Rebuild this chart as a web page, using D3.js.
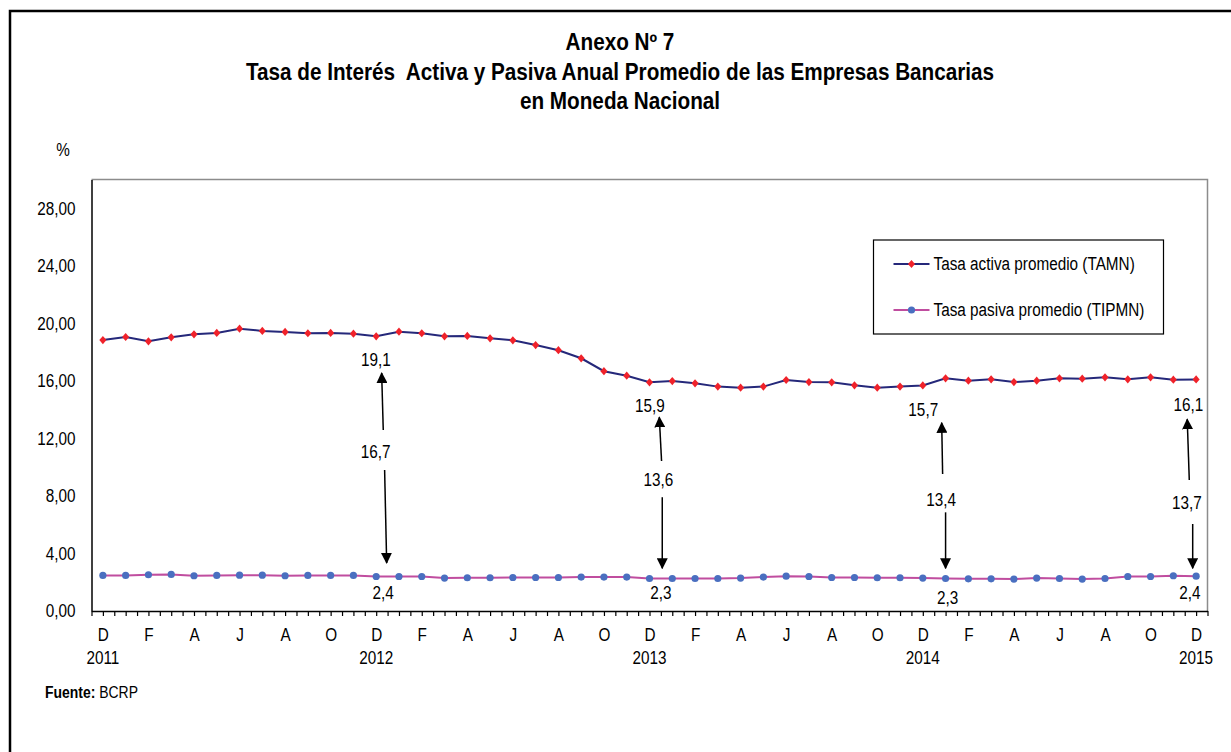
<!DOCTYPE html>
<html>
<head>
<meta charset="utf-8">
<script src="https://cdn.jsdelivr.net/npm/d3@7"></script>
<style>
body { margin: 0; background: #fff; }
svg text { font-family: "Liberation Sans Narrow", "Arial Narrow", "Liberation Sans", Arial, sans-serif; fill: #000; }
</style>
</head>
<body>
<div id="chart"></div>
<script>
// meses dic-2011 .. dic-2015 (inicial del mes)
var meses = ["D","E","F","M","A","M","J","J","A","S","O","N",
             "D","E","F","M","A","M","J","J","A","S","O","N",
             "D","E","F","M","A","M","J","J","A","S","O","N",
             "D","E","F","M","A","M","J","J","A","S","O","N",
             "D"];
var anios = ["2011", "2012", "2013", "2014", "2015"];
var aniosPos = [0, 12, 24, 36, 48];

var tasaActiva = [18.84, 19.05, 18.75, 19.03, 19.24, 19.33, 19.63, 19.47, 19.40, 19.31, 19.33, 19.28,
                  19.10, 19.42, 19.31, 19.10, 19.12, 18.96, 18.82, 18.49, 18.13, 17.57, 16.67, 16.36,
                  15.90, 15.99, 15.83, 15.60, 15.53, 15.60, 16.06, 15.92, 15.90, 15.69, 15.53, 15.60,
                  15.68, 16.18, 16.01, 16.11, 15.92, 16.01, 16.18, 16.15, 16.25, 16.11, 16.25, 16.08,
                  16.10];
var tasaPasiva = [2.47, 2.47, 2.52, 2.54, 2.45, 2.47, 2.49, 2.49, 2.45, 2.47, 2.47, 2.47,
                  2.40, 2.40, 2.40, 2.29, 2.31, 2.31, 2.33, 2.33, 2.33, 2.36, 2.36, 2.36,
                  2.26, 2.26, 2.26, 2.26, 2.29, 2.36, 2.42, 2.40, 2.33, 2.33, 2.31, 2.31,
                  2.29, 2.26, 2.24, 2.24, 2.22, 2.29, 2.26, 2.22, 2.26, 2.40, 2.40, 2.45,
                  2.42];

var yTicks = [0, 4, 8, 12, 16, 20, 24, 28];
var series = ["Tasa activa promedio (TAMN)", "Tasa pasiva promedio (TIPMN)"];

// anotaciones de brecha (posicion en indice de mes / valor)
var brechaTexto = [["19,1", "16,7", "2,4"], ["15,9", "13,6", "2,3"], ["15,7", "13,4", "2,3"], ["16,1", "13,7", "2,4"]];
var brechaTextoPos = [
  [[11.99, 17.45], [11.98, 11.08], [12.30, 1.27]],
  [[24.02, 14.25], [24.39, 9.11], [24.50, 1.27]],
  [[36.02, 14.02], [36.80, 7.77], [37.09, 0.92]],
  [[47.66, 14.32], [47.59, 7.53], [47.73, 1.27]]
];
var flechaArriba = [
  [[12.31, 12.58], [12.24, 16.55]],
  [[24.53, 10.43], [24.43, 13.47]],
  [[36.87, 9.53], [36.83, 13.09]],
  [[47.70, 9.11], [47.61, 13.33]]
];
var flechaAbajo = [
  [[12.37, 9.80], [12.46, 3.34]],
  [[24.56, 7.91], [24.56, 2.97]],
  [[37.00, 6.86], [37.00, 2.97]],
  [[47.85, 6.05], [47.85, 2.97]]
];

var width = 1231, height = 752;
var plot = { left: 91.5, right: 1207.5, top: 179.5, bottom: 611 };

var x = d3.scaleLinear().domain([-0.5, 48.5]).range([plot.left, plot.right]);
var y = d3.scaleLinear().domain([0, 30]).range([plot.bottom, plot.top]);

var es = d3.formatLocale({ decimal: ",", thousands: ".", grouping: [3], currency: ["S/", ""] });
var fmt = es.format(".2f");

// la fuente original es angosta: comprimir el texto horizontalmente
function estrechar(sel, k) {
  sel.each(function () {
    var len = this.getComputedTextLength();
    d3.select(this)
        .attr("textLength", len * k)
        .attr("lengthAdjust", "spacingAndGlyphs");
  });
}

var svg = d3.select("#chart").append("svg")
    .attr("width", width)
    .attr("height", height);

// marco exterior
svg.append("rect")
    .attr("x", 10).attr("y", 11)
    .attr("width", 1240).attr("height", 760)
    .attr("fill", "none")
    .attr("stroke", "#000")
    .attr("stroke-width", 2.5);

// titulo
var titulo = ["Anexo Nº 7", "Tasa de Interés  Activa y Pasiva Anual Promedio de las Empresas Bancarias", "en Moneda Nacional"];
var tituloSel = svg.selectAll(".titulo")
    .data(titulo)
    .enter().append("text")
    .attr("class", "titulo")
    .attr("x", 620)
    .attr("y", function (d, i) { return 42 + i * 29.5; })
    .attr("dy", "0.35em")
    .attr("text-anchor", "middle")
    .style("font-size", "23px")
    .style("font-weight", "bold")
    .style("white-space", "pre")
    .text(function (d) { return d; });

svg.append("text")
    .attr("x", 63).attr("y", 150)
    .attr("dy", "0.35em")
    .attr("text-anchor", "middle")
    .style("font-size", "18px")
    .text("%");

// borde del area de grafico (arriba y derecha)
svg.append("path")
    .attr("d", "M" + plot.left + "," + y(30) + "H" + plot.right + "V" + y(0))
    .attr("fill", "none")
    .attr("stroke", "#8c8c8c")
    .attr("stroke-width", 1.5);

// eje y
var yAxis = svg.append("g")
    .attr("transform", "translate(" + plot.left + ",0)")
    .call(d3.axisLeft(y).tickValues(yTicks).tickSize(0).tickSizeOuter(0).tickPadding(16).tickFormat(fmt));
yAxis.select(".domain").attr("stroke", "#000").attr("stroke-width", 1.5);
yAxis.selectAll("text").style("font-size", "18px");
yAxis.attr("font-family", null);

// eje x: marcas cada medio mes
var xTickAxis = svg.append("g")
    .attr("transform", "translate(0," + plot.bottom + ")")
    .call(d3.axisBottom(x).tickValues(d3.range(-0.5, 48.51, 0.5)).tickSize(5).tickSizeOuter(0).tickFormat(""));
xTickAxis.select(".domain").attr("stroke", "#000").attr("stroke-width", 1.5);
xTickAxis.selectAll(".tick line").attr("stroke", "#000").attr("stroke-width", 1.2);

var xLabelAxis = svg.append("g")
    .attr("transform", "translate(0," + plot.bottom + ")")
    .call(d3.axisBottom(x).tickValues(d3.range(0, 49, 2)).tickSize(0).tickPadding(17).tickFormat(function (i) { return meses[i]; }));
xLabelAxis.select(".domain").remove();
xLabelAxis.attr("font-family", null);
xLabelAxis.selectAll("text").style("font-size", "18px");

svg.selectAll(".anio")
    .data(anios)
    .enter().append("text")
    .attr("class", "anio")
    .attr("x", function (d, i) { return x(aniosPos[i]); })
    .attr("y", 664)
    .attr("text-anchor", "middle")
    .style("font-size", "18px")
    .text(function (d) { return d; });

// series
var line = d3.line()
    .x(function (d, i) { return x(i); })
    .y(function (d) { return y(d); });

var diamond = {
  draw: function (context, size) {
    var h = Math.sqrt(size) / 2;
    context.moveTo(0, -h * 1.1);
    context.lineTo(h * 0.95, 0);
    context.lineTo(0, h * 1.1);
    context.lineTo(-h * 0.95, 0);
    context.closePath();
  }
};
var diamondPath = d3.symbol().type(diamond).size(56)();

svg.append("path")
    .datum(tasaPasiva)
    .attr("d", line)
    .attr("fill", "none")
    .attr("stroke", "#c04d9f")
    .attr("stroke-width", 2);

svg.selectAll(".pasiva")
    .data(tasaPasiva)
    .enter().append("circle")
    .attr("class", "pasiva")
    .attr("cx", function (d, i) { return x(i); })
    .attr("cy", function (d) { return y(d); })
    .attr("r", 3.6)
    .attr("fill", "#4a6fc0");

svg.append("path")
    .datum(tasaActiva)
    .attr("d", line)
    .attr("fill", "none")
    .attr("stroke", "#25287a")
    .attr("stroke-width", 2);

svg.selectAll(".activa")
    .data(tasaActiva)
    .enter().append("path")
    .attr("class", "activa")
    .attr("d", diamondPath)
    .attr("transform", function (d, i) { return "translate(" + x(i) + "," + y(d) + ")"; })
    .attr("fill", "#f0222a");

// flechas
svg.append("defs").append("marker")
    .attr("id", "punta")
    .attr("viewBox", "0 0 12 12")
    .attr("refX", 11).attr("refY", 6)
    .attr("markerUnits", "userSpaceOnUse")
    .attr("markerWidth", 11).attr("markerHeight", 11)
    .attr("orient", "auto")
    .append("path")
    .attr("d", "M0,0L12,6L0,12Z")
    .attr("fill", "#000");

var flechas = flechaArriba.concat(flechaAbajo);
svg.selectAll(".flecha")
    .data(flechas)
    .enter().append("line")
    .attr("class", "flecha")
    .attr("x1", function (d) { return x(d[0][0]); })
    .attr("y1", function (d) { return y(d[0][1]); })
    .attr("x2", function (d) { return x(d[1][0]); })
    .attr("y2", function (d) { return y(d[1][1]); })
    .attr("stroke", "#000")
    .attr("stroke-width", 1.5)
    .attr("marker-end", "url(#punta)");

brechaTexto.forEach(function (grupo, g) {
  svg.selectAll(".brecha" + g)
      .data(grupo)
      .enter().append("text")
      .attr("x", function (d, i) { return x(brechaTextoPos[g][i][0]); })
      .attr("y", function (d, i) { return y(brechaTextoPos[g][i][1]); })
      .attr("dy", "0.35em")
      .attr("text-anchor", "middle")
      .style("font-size", "18px")
      .text(function (d) { return d; });
});

// leyenda
var legend = svg.append("g").attr("transform", "translate(873.5,240)");
legend.append("rect")
    .attr("width", 290).attr("height", 94)
    .attr("fill", "#fff")
    .attr("stroke", "#000")
    .attr("stroke-width", 1.2);

var item = legend.selectAll(".item")
    .data(series)
    .enter().append("g")
    .attr("class", "item")
    .attr("transform", function (d, i) { return "translate(0," + (24 + i * 46) + ")"; });

item.append("line")
    .attr("x1", 20).attr("x2", 56)
    .attr("stroke", function (d, i) { return i === 0 ? "#25287a" : "#c04d9f"; })
    .attr("stroke-width", 2);

item.filter(function (d, i) { return i === 0; }).append("path")
    .attr("d", diamondPath)
    .attr("transform", "translate(38,0)")
    .attr("fill", "#f0222a");

item.filter(function (d, i) { return i === 1; }).append("circle")
    .attr("cx", 38).attr("r", 3.6)
    .attr("fill", "#4a6fc0");

item.append("text")
    .attr("x", 60)
    .attr("dy", "0.35em")
    .style("font-size", "18px")
    .text(function (d) { return d; });

estrechar(svg.selectAll("text:not(.titulo)"), 0.85);
estrechar(tituloSel, 0.9);

// fuente
var fuente = svg.append("text")
    .attr("x", 45).attr("y", 698)
    .style("font-size", "16px")
    .style("font-weight", "bold")
    .text("Fuente:");
estrechar(fuente, 0.87);
var finFuente = 45 + fuente.node().getBBox().width;
var bcrp = svg.append("text")
    .attr("x", finFuente + 4).attr("y", 698)
    .style("font-size", "16px")
    .text("BCRP");
estrechar(bcrp, 0.87);
</script>
</body>
</html>
